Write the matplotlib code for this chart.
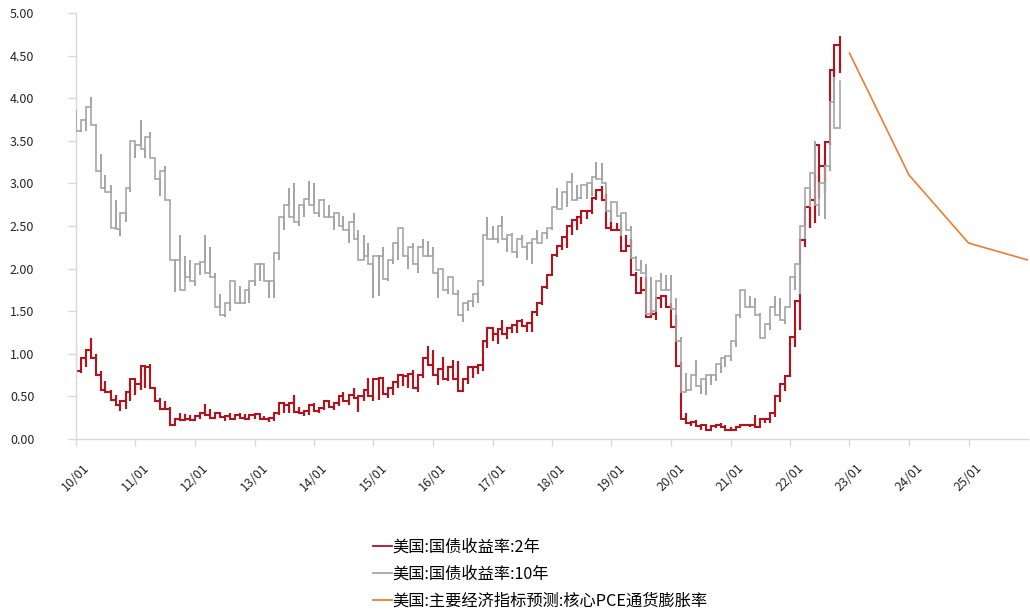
import numpy as np
import pandas as pd
import matplotlib
matplotlib.use("Agg")
import matplotlib.pyplot as plt
import matplotlib.dates as mdates
from matplotlib.lines import Line2D

plt.rcParams['font.family'] = ['Noto Sans CJK SC', 'DejaVu Sans']

# ---------------- data ----------------
start_month = "2010-01"
# US 2Y treasury yield: monthly low / high (2010-01 .. 2022-11)
y2_lo = [0.80, 0.78, 0.85, 0.95, 0.75, 0.58, 0.55, 0.46, 0.40, 0.33, 0.35, 0.45,
         0.52, 0.58, 0.60, 0.60, 0.45, 0.35, 0.35, 0.16, 0.17, 0.22, 0.23, 0.22,
         0.21, 0.24, 0.28, 0.25, 0.25, 0.26, 0.21, 0.24, 0.22, 0.25, 0.24, 0.23,
         0.24, 0.23, 0.23, 0.20, 0.21, 0.28, 0.30, 0.30, 0.32, 0.30, 0.27, 0.28,
         0.33, 0.30, 0.34, 0.38, 0.34, 0.39, 0.45, 0.40, 0.48, 0.32, 0.45, 0.50,
         0.45, 0.46, 0.53, 0.48, 0.52, 0.60, 0.62, 0.60, 0.60, 0.55, 0.72, 0.87,
         0.75, 0.63, 0.70, 0.68, 0.70, 0.56, 0.58, 0.64, 0.72, 0.76, 0.80, 1.07,
         1.15, 1.12, 1.23, 1.17, 1.24, 1.25, 1.33, 1.26, 1.26, 1.44, 1.57, 1.76,
         1.92, 2.14, 2.22, 2.24, 2.40, 2.45, 2.52, 2.58, 2.64, 2.80, 2.80, 2.48,
         2.45, 2.45, 2.21, 2.27, 1.92, 1.71, 1.75, 1.43, 1.47, 1.40, 1.54, 1.55,
         1.31, 0.86, 0.24, 0.19, 0.15, 0.15, 0.11, 0.11, 0.12, 0.13, 0.14, 0.11,
         0.11, 0.10, 0.13, 0.16, 0.14, 0.14, 0.17, 0.19, 0.19, 0.26, 0.44, 0.56,
         0.73, 1.08, 1.28, 2.25, 2.48, 2.53, 2.82, 2.89, 3.45, 4.20, 4.30]
y2_hi = [1.08, 0.95, 1.05, 1.18, 1.00, 0.80, 0.68, 0.58, 0.52, 0.45, 0.55, 0.70,
         0.65, 0.86, 0.85, 0.88, 0.60, 0.48, 0.45, 0.38, 0.24, 0.31, 0.29, 0.28,
         0.27, 0.31, 0.41, 0.35, 0.30, 0.32, 0.27, 0.30, 0.28, 0.31, 0.29, 0.28,
         0.29, 0.30, 0.27, 0.25, 0.30, 0.42, 0.40, 0.42, 0.52, 0.38, 0.33, 0.40,
         0.42, 0.36, 0.45, 0.45, 0.42, 0.50, 0.55, 0.52, 0.60, 0.50, 0.58, 0.72,
         0.70, 0.72, 0.73, 0.60, 0.67, 0.75, 0.74, 0.76, 0.81, 0.75, 0.95, 1.09,
         1.05, 0.82, 0.96, 0.85, 0.93, 0.92, 0.70, 0.84, 0.84, 0.87, 1.15, 1.30,
         1.23, 1.29, 1.40, 1.30, 1.34, 1.38, 1.41, 1.36, 1.49, 1.60, 1.78, 1.92,
         2.16, 2.27, 2.37, 2.50, 2.57, 2.60, 2.68, 2.68, 2.83, 2.92, 2.97, 2.87,
         2.60, 2.54, 2.51, 2.40, 2.35, 1.96, 1.90, 1.90, 1.76, 1.65, 1.68, 1.68,
         1.60, 1.45, 0.90, 0.30, 0.20, 0.22, 0.16, 0.17, 0.15, 0.17, 0.19, 0.16,
         0.14, 0.14, 0.17, 0.18, 0.17, 0.28, 0.24, 0.24, 0.31, 0.50, 0.64, 0.74,
         1.20, 1.62, 2.34, 2.72, 2.80, 3.45, 3.20, 3.49, 4.33, 4.62, 4.72]

# US 10Y treasury yield: monthly low / high (2010-01 .. 2022-11)
y10_lo = [3.62, 3.60, 3.62, 3.68, 3.15, 2.95, 2.90, 2.48, 2.47, 2.38, 2.55, 2.90,
          3.30, 3.40, 3.30, 3.30, 3.05, 2.85, 2.80, 2.10, 1.72, 1.75, 1.90, 1.85,
          1.80, 1.92, 1.95, 1.90, 1.55, 1.45, 1.43, 1.50, 1.60, 1.60, 1.58, 1.60,
          1.80, 1.85, 1.85, 1.65, 1.65, 2.10, 2.45, 2.60, 2.55, 2.50, 2.60, 2.75,
          2.65, 2.60, 2.60, 2.60, 2.45, 2.50, 2.45, 2.30, 2.35, 2.10, 2.15, 2.05,
          1.65, 1.68, 1.88, 1.85, 2.05, 2.10, 2.15, 2.00, 2.05, 1.95, 2.15, 2.15,
          1.95, 1.65, 1.75, 1.70, 1.70, 1.45, 1.37, 1.50, 1.55, 1.60, 1.80, 2.35,
          2.35, 2.30, 2.35, 2.20, 2.20, 2.12, 2.25, 2.10, 2.05, 2.30, 2.30, 2.35,
          2.45, 2.70, 2.74, 2.72, 2.80, 2.83, 2.82, 2.82, 2.85, 3.05, 3.00, 2.68,
          2.55, 2.62, 2.38, 2.45, 2.12, 1.98, 1.95, 1.47, 1.50, 1.52, 1.75, 1.75,
          1.52, 1.15, 0.55, 0.58, 0.60, 0.62, 0.53, 0.52, 0.63, 0.68, 0.78, 0.85,
          0.92, 1.08, 1.42, 1.55, 1.55, 1.45, 1.18, 1.22, 1.28, 1.45, 1.40, 1.35,
          1.63, 1.75, 1.70, 2.35, 2.72, 2.75, 2.62, 2.58, 3.15, 3.65, 3.65]
y10_hi = [3.85, 3.75, 3.90, 4.01, 3.70, 3.35, 3.10, 2.98, 2.80, 2.65, 2.95, 3.50,
          3.45, 3.75, 3.55, 3.60, 3.30, 3.15, 3.20, 2.80, 2.10, 2.40, 2.15, 2.10,
          2.05, 2.08, 2.40, 2.25, 1.95, 1.70, 1.60, 1.85, 1.85, 1.80, 1.75, 1.85,
          2.05, 2.05, 2.05, 1.85, 2.18, 2.60, 2.75, 2.95, 3.00, 2.75, 2.82, 3.03,
          3.00, 2.80, 2.82, 2.75, 2.65, 2.65, 2.62, 2.55, 2.65, 2.45, 2.40, 2.30,
          2.15, 2.15, 2.25, 2.10, 2.30, 2.48, 2.45, 2.25, 2.30, 2.25, 2.35, 2.32,
          2.25, 2.00, 1.95, 1.90, 1.90, 1.75, 1.60, 1.62, 1.70, 1.85, 2.40, 2.60,
          2.50, 2.50, 2.62, 2.40, 2.42, 2.35, 2.40, 2.30, 2.35, 2.45, 2.42, 2.48,
          2.72, 2.95, 2.90, 3.02, 3.12, 2.98, 2.98, 3.00, 3.07, 3.25, 3.24, 3.00,
          2.78, 2.75, 2.65, 2.58, 2.50, 2.15, 2.10, 2.05, 1.90, 1.85, 1.95, 1.93,
          1.92, 1.65, 1.20, 0.78, 0.75, 0.93, 0.70, 0.75, 0.75, 0.88, 0.95, 0.98,
          1.15, 1.45, 1.75, 1.73, 1.68, 1.65, 1.48, 1.35, 1.55, 1.68, 1.65, 1.55,
          1.90, 2.05, 2.50, 2.95, 3.12, 3.50, 3.00, 3.20, 3.95, 4.25, 4.20]

# Core PCE inflation forecast
pce_dates = ["2023-01", "2024-01", "2025-01", "2026-01"]
pce_vals = [4.53, 3.10, 2.30, 2.10]

# x tick labels (year starts shown on the axis)
tick_dates = pd.date_range("2010-01-01", "2025-01-01", freq="YS")

labels = ["美国:国债收益率:2年", "美国:国债收益率:10年",
          "美国:主要经济指标预测:核心PCE通货膨胀率"]
colors = ["#B4121C", "#A6A6A6", "#ED7D31"]


def month_path(months, lo, hi):
    """Vertical intra-month range at each month, horizontal link to next month."""
    lo = np.asarray(lo, float)
    hi = np.asarray(hi, float)
    mid = (lo + hi) / 2
    xs, ys = [], []
    prev_end = None
    n = len(lo)
    for i in range(n):
        up = True if i == n - 1 else mid[i + 1] >= mid[i]
        end, other = (hi[i], lo[i]) if up else (lo[i], hi[i])
        if prev_end is not None:
            xs.append(months[i]); ys.append(prev_end)
        xs += [months[i], months[i]]
        ys += [other, end]
        prev_end = end
    return xs, ys


months = pd.date_range(start_month, periods=len(y2_lo), freq="MS")
x2, yy2 = month_path(months, y2_lo, y2_hi)
x10, yy10 = month_path(months, y10_lo, y10_hi)
pce_x = pd.to_datetime(pce_dates)

# ---------------- figure ----------------
fig = plt.figure(figsize=(10.30, 6.13), dpi=100)
ax = fig.add_axes([76 / 1030, 1 - 439 / 613, (1028 - 76) / 1030, (439 - 13) / 613])

ax.plot(x2, yy2, color=colors[0], lw=1.5, zorder=2, solid_joinstyle="miter")
ax.plot(x10, yy10, color=colors[1], lw=1.2, zorder=3, solid_joinstyle="miter")
ax.plot(pce_x, pce_vals, color=colors[2], lw=1.2, zorder=4)

ax.set_ylim(0, 5)
ax.set_yticks(np.arange(0, 5.01, 0.5))
ax.yaxis.set_major_formatter(matplotlib.ticker.FormatStrFormatter("%.2f"))
ax.set_xlim(pd.Timestamp("2010-01-01"), pd.Timestamp("2026-01-01"))
ax.set_xticks(tick_dates)
ax.xaxis.set_major_formatter(mdates.DateFormatter("%y/%m"))

for s in ["top", "right"]:
    ax.spines[s].set_visible(False)
for s in ["left", "bottom"]:
    ax.spines[s].set_color("#D9D9D9")
    ax.spines[s].set_linewidth(1.0)

ax.tick_params(axis="y", direction="out", length=6, width=1.0, color="#D9D9D9",
               labelsize=9, pad=24, labelcolor="#262626")
ax.tick_params(axis="x", direction="out", length=5, width=1.0, color="#D9D9D9",
               labelsize=9, pad=11, labelcolor="#262626")
for lab in ax.get_xticklabels():
    lab.set_rotation(45)
    lab.set_ha("center")

handles = [Line2D([], [], color=c, lw=1.3) for c in colors]
fig.legend(handles, labels, loc="upper left",
           bbox_to_anchor=(373 / 1030, 1 - 539 / 613),
           frameon=False, fontsize=11.7, handlelength=1.15, handletextpad=0.05,
           labelspacing=0.62, borderpad=0, borderaxespad=0)

fig.savefig("out.png", dpi=100)
